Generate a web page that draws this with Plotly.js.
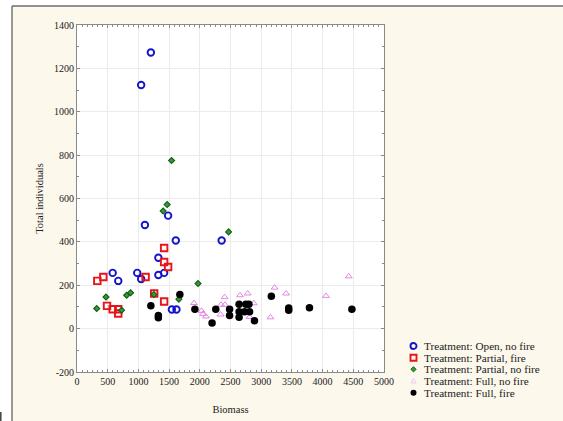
<!DOCTYPE html>
<html>
<head>
<meta charset="utf-8">
<script src="https://cdn.plot.ly/plotly-3.0.1.min.js"></script>
<style>html,body{margin:0;padding:0;background:#fff;}#chart{width:563px;height:421px;}</style>
</head>
<body>
<div id="chart"></div>
<script>
// ---- data ----
const seriesNames = [
  "Treatment: Open, no fire",
  "Treatment: Partial, fire",
  "Treatment: Partial, no fire",
  "Treatment: Full, no fire",
  "Treatment: Full, fire"
];
const openNoFireX = [1203,1045,1484,1106,1609,2356,1325,581,672,981,1045,1325,1419,1545,1620];
const openNoFireY = [1273,1123,521,478,406,406,327,257,220,257,229,247,257,88,88];
const partialFireX = [331,429,489,581,672,672,1117,1257,1419,1419,1419,1484];
const partialFireY = [220,238,105,89,89,70,238,162,125,372,307,284];
const partialNoFireX = [321,472,727,808,873,1252,1403,1468,1540,1660,1971,2469];
const partialNoFireY = [93,146,85,154,165,157,542,572,775,136,208,446];
const fullNoFireX = [1906,2028,2052,2100,2405,2345,2410,2337,2655,2780,2878,2810,3218,3151,3405,4055,4425];
const fullNoFireY = [118,82,68,56,145,110,110,65,154,162,117,54,189,52,162,151,241];
const fullFireX = [1203,1325,1325,1675,1920,2200,2260,2485,2485,2640,2640,2640,2750,2730,2800,2810,2890,3165,3448,3448,3786,4477];
const fullFireY = [105,60,50,157,89,26,89,89,60,112,78,53,112,78,112,78,36,149,95,85,96,89];
const xTickVals = [0,500,1000,1500,2000,2500,3000,3500,4000,4500,5000];
const yTickVals = [-200,0,200,400,600,800,1000,1200,1400];
const yTickText = ["-200","0","200","400","600","800","1000","1200","1400"];
const xTitle = "Biomass";
const yTitle = "Total individuals";

// ---- styles ----
const serif = "Liberation Serif, Times New Roman, serif";
const styles = [
  {symbol:"circle-open", size:6.5, color:"#1414cc", line:{width:1.9, color:"#1414cc"}},
  {symbol:"square-open", size:6.5, color:"#e8141a", line:{width:1.9, color:"#e8141a"}},
  {symbol:"diamond", size:4.5, color:"#3a9a3a", line:{width:1.2, color:"#146214"}},
  {symbol:"triangle-up-open", size:6, color:"#e07be0", line:{width:0.9, color:"#e07be0"}},
  {symbol:"circle", size:7.5, color:"#000000", line:{width:0, color:"#000"}}
];
const xs = [openNoFireX, partialFireX, partialNoFireX, fullNoFireX, fullFireX];
const ys = [openNoFireY, partialFireY, partialNoFireY, fullNoFireY, fullFireY];

const traces = seriesNames.map((n,i)=>({
  type:"scatter", mode:"markers", name:n, x:xs[i], y:ys[i],
  marker:styles[i], showlegend:false, cliponaxis:false
}));

// ---- layout geometry ----
const L=77, R=384, T=25, B=372, W=563, H=421;
const px2x = p => (p-L)/(R-L);
const py2y = p => (B-p)/(B-T);

const shapes = [
  // white outside the frame
  {type:"rect", xref:"paper", yref:"paper", x0:px2x(-5), x1:px2x(W+5), y0:py2y(6), y1:py2y(-5), fillcolor:"#ffffff", line:{width:0}, layer:"below"},
  {type:"rect", xref:"paper", yref:"paper", x0:px2x(-5), x1:px2x(12), y0:py2y(H+5), y1:py2y(-5), fillcolor:"#ffffff", line:{width:0}, layer:"below"},
  // frame lines
  {type:"line", xref:"paper", yref:"paper", x0:px2x(12), x1:px2x(W+2), y0:py2y(6), y1:py2y(6), line:{color:"#6e6e6e", width:1.4}},
  {type:"line", xref:"paper", yref:"paper", x0:px2x(12), x1:px2x(12), y0:py2y(6), y1:py2y(H+2), line:{color:"#6e6e6e", width:1.4}},
  // clipped glyph at the bottom-left edge
  {type:"line", xref:"paper", yref:"paper", x0:px2x(0.8), x1:px2x(0.8), y0:py2y(412), y1:py2y(H+2), line:{color:"#333", width:1.4}}
];
const annotations = [];
const legX = 413.5, legTextX = 422, legRows = [346, 357.7, 369.3, 381, 392.7];
legRows.forEach((ry,i)=>{
  const base = {xref:"paper", yref:"paper", xsizemode:"pixel", ysizemode:"pixel", xanchor:px2x(legX), yanchor:py2y(ry)};
  const s = styles[i];
  if(i===0) shapes.push(Object.assign({type:"circle", x0:-3, x1:3, y0:-3, y1:3, line:{color:s.color, width:1.9}}, base));
  if(i===1) shapes.push(Object.assign({type:"rect", x0:-3, x1:3, y0:-3, y1:3, line:{color:s.color, width:1.9}}, base));
  if(i===2) shapes.push(Object.assign({type:"path", path:"M0,2.6 L2.6,0 L0,-2.6 L-2.6,0 Z", fillcolor:s.color, line:{color:s.line.color, width:1}}, base));
  if(i===3) shapes.push(Object.assign({type:"path", path:"M-2.5,-2 L2.5,-2 L0,2.5 Z", line:{color:"#ecc4ec", width:0.9}}, base));
  if(i===4) shapes.push(Object.assign({type:"circle", x0:-3, x1:3, y0:-3, y1:3, fillcolor:"#000", line:{color:"#000", width:0}}, base));
  annotations.push({xref:"paper", yref:"paper", x:px2x(legTextX), y:py2y(ry), xanchor:"left", yanchor:"middle",
    text:seriesNames[i], showarrow:false, font:{family:serif, size:11.2, color:"#222"}});
});

const axisCommon = {
  showline:true, linecolor:"#8a8a8a", linewidth:1, mirror:"ticks",
  ticks:"inside", ticklen:3, tickcolor:"#8a8a8a", tickwidth:1,
  showgrid:true, gridcolor:"#ebebeb", gridwidth:1, zeroline:false,
  tickfont:{family:serif, size:10, color:"#222"}
};

const layout = {
  width:W, height:H,
  margin:{l:L, r:W-R, t:T, b:H-B, pad:0},
  paper_bgcolor:"#fcf8ec", plot_bgcolor:"#ffffff",
  showlegend:false,
  xaxis:Object.assign({}, axisCommon, {
    range:[0,5000], tickmode:"array", tickvals:xTickVals,
    minor:{dtick:500/6, ticks:"inside", ticklen:2, tickcolor:"#8a8a8a", showgrid:false},
    title:{text:xTitle, font:{family:serif, size:10.5, color:"#222"}, standoff:19}
  }),
  yaxis:Object.assign({}, axisCommon, {
    range:[-200,1400], tickmode:"array", tickvals:yTickVals, ticktext:yTickText,
    minor:{dtick:100, ticks:"inside", ticklen:2, tickcolor:"#8a8a8a", showgrid:false},
    title:{text:yTitle, font:{family:serif, size:10.5, color:"#222"}, standoff:8}
  }),
  shapes:shapes, annotations:annotations
};

Plotly.newPlot("chart", traces, layout, {staticPlot:true, displayModeBar:false});
</script>
</body>
</html>
